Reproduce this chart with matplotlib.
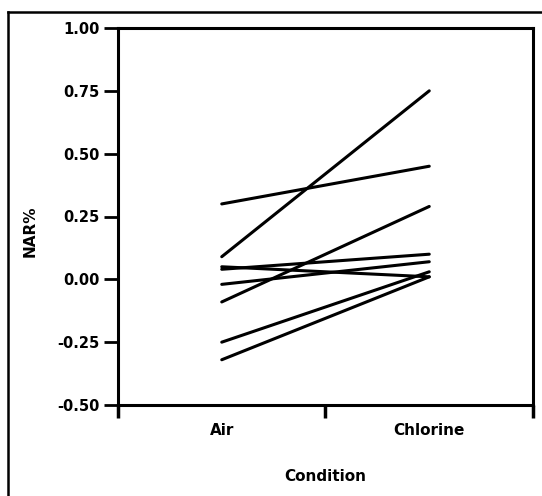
import matplotlib
matplotlib.use("Agg")
import matplotlib.pyplot as plt
from matplotlib.lines import Line2D

# 1. Data (paired values per subject)
conditions = ["Air", "Chlorine"]
nar_air = [0.30, 0.09, 0.05, 0.04, -0.02, -0.09, -0.25, -0.32]
nar_chlorine = [0.45, 0.75, 0.01, 0.10, 0.07, 0.29, 0.03, 0.01]
y_ticks = [-0.50, -0.25, 0.00, 0.25, 0.50, 0.75, 1.00]

plt.rcParams['font.family'] = ['DejaVu Sans']
plt.rcParams['font.weight'] = 'bold'

fig = plt.figure(figsize=(5.42, 4.96), dpi=100)
ax = fig.add_axes([118 / 542, 1 - 405 / 496, 415 / 542, 377 / 496])

# 2. Draw the paired lines
x_pos = [0.5, 1.5]
for a, c in zip(nar_air, nar_chlorine):
    ax.plot(x_pos, [a, c], color="black", lw=2.2, solid_capstyle="round")

# 3. Axes styling
ax.set_xlim(0, 2)
ax.set_ylim(-0.5, 1.0)
ax.set_yticks(y_ticks)
ax.set_yticklabels([f"{v:.2f}" for v in y_ticks], fontsize=10.5, fontweight="bold")
ax.set_xticks([0, 1, 2])
ax.set_xticklabels([])
ax.set_xticks(x_pos, minor=True)
ax.set_xticklabels(conditions, minor=True, fontsize=11, fontweight="bold")
ax.tick_params(axis="y", direction="out", length=10, width=2, pad=3)
ax.tick_params(axis="x", which="major", direction="out", length=9, width=2.5)
ax.tick_params(axis="x", which="minor", length=0, pad=13)
for s in ax.spines.values():
    s.set_linewidth(2.2)

ax.set_xlabel("Condition", fontsize=11, fontweight="bold", labelpad=22)
fig.text(30 / 542, 1 - 231 / 496, "NAR%", rotation=90, ha="center", va="center",
         fontsize=11, fontweight="bold")

# 4. Outer frame of the scanned figure
fig.add_artist(Line2D([8 / 542, 8 / 542], [0, 1 - 12 / 496], transform=fig.transFigure,
                      color="black", lw=1.8))
fig.add_artist(Line2D([8 / 542, 1], [1 - 12 / 496, 1 - 12 / 496], transform=fig.transFigure,
                      color="black", lw=1.8))

plt.savefig("out.png", dpi=100)
plt.close()
